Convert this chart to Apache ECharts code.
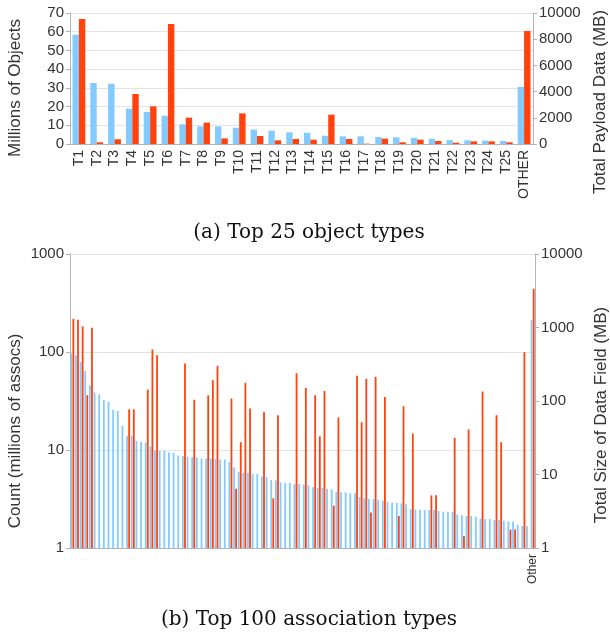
<!DOCTYPE html>
<html>
<head>
<meta charset="utf-8">
<script src="https://cdn.jsdelivr.net/npm/echarts@6/dist/echarts.min.js"></script>
<style>
  html, body { margin: 0; padding: 0; background: #fff; }
  #chart { width: 610px; height: 633px; }
</style>
</head>
<body>
<div id="chart"></div>
<script>
// (a) top 25 object types
const objTypes = ["T1", "T2", "T3", "T4", "T5", "T6", "T7", "T8", "T9", "T10", "T11", "T12", "T13",
  "T14", "T15", "T16", "T17", "T18", "T19", "T20", "T21", "T22", "T23", "T24", "T25", "OTHER"];
const objCount = [58.4, 32.6, 32.2, 18.9, 17.1, 15.1, 10.5, 9.4, 9.4, 8.7, 7.7, 7.1, 6.2,
  6.0, 4.4, 4.1, 4.1, 3.7, 3.6, 3.3, 2.8, 2.1, 2.0, 1.8, 1.6, 30.5]; // millions
const objPayload = [9540, 130, 360, 3820, 2875, 9160, 2010, 1630, 430, 2340, 610, 280, 380,
  330, 2240, 380, 25, 410, 130, 330, 230, 100, 200, 200, 130, 8630]; // MB

// (b) top 100 association types (last one is "Other")
const assocTypes = [];
for (let i = 1; i < 100; i++) assocTypes.push("A" + i);
assocTypes.push("Other");
const assocCount = [
  97, 92.5, 79, 64, 45.7, 38.7, 37, 32.4, 31.1, 25.6,
  25.0, 17.6, 13.9, 13.9, 12.4, 12.1, 11.9, 10.9, 9.9, 9.8,
  9.8, 9.5, 9.4, 8.8, 8.7, 8.55, 8.5, 8.4, 8.2, 8.2,
  8.2, 8.1, 8.0, 8.0, 7.55, 6.66, 5.97, 5.87, 5.87, 5.69,
  5.69, 5.35, 5.3, 4.94, 4.9, 4.68, 4.61, 4.61, 4.5, 4.5,
  4.43, 4.37, 4.16, 4.1, 4.1, 4.03, 3.97, 3.73, 3.7, 3.7,
  3.61, 3.61, 3.31, 3.21, 3.16, 3.16, 3.11, 3.04, 2.95, 2.9,
  2.88, 2.85, 2.79, 2.5, 2.46, 2.46, 2.44, 2.44, 2.44, 2.38,
  2.35, 2.35, 2.33, 2.19, 2.16, 2.12, 2.12, 2.09, 1.99, 1.97,
  1.97, 1.93, 1.93, 1.90, 1.86, 1.85, 1.72, 1.68, 1.68, 212
]; // millions of assocs
const assocSize = [
  1313, 1273, 1033, 120, 990, null, null, null, null, null,
  null, null, 77, 77, null, null, 143, 502, 420, null,
  null, null, null, null, 324, null, 104, null, null, 119,
  192, 301, null, null, 108, 6.4, 27.5, 177, 79, null,
  null, 71, null, 4.75, 64, null, null, null, 239, null,
  151, null, 120, 33, 137, null, 3.77, 59.6, null, null,
  null, 220, 51.4, 200, 3.03, 213, null, 113, null, null,
  2.73, 85, null, 36, null, null, null, 5.2, 5.2, null,
  null, null, 31.5, null, 1.46, 40.9, null, null, 134.6, null,
  null, 64, 27.5, null, 1.78, 1.78, null, 462, null, 3365
]; // MB

const BLUE = "#83caff";
const RED = "#ff420e";
const AXIS = "#b3b3b3";
const GRID = "#e3e3e3";
const LABEL = "#333";
const FONT = "Liberation Sans";

function valueAxis(extra) {
  return Object.assign({
    axisLine: { show: true, lineStyle: { color: AXIS } },
    axisTick: { show: true, length: 4, lineStyle: { color: AXIS } },
    axisLabel: { color: LABEL, fontSize: 15, fontFamily: FONT, margin: 6, formatter: (v) => String(v) },
    splitLine: { show: false }
  }, extra);
}

function axisTitle(text, x, y) {
  return {
    type: "text", x: x, y: y, rotation: Math.PI / 2,
    style: { text: text, fill: LABEL, fontSize: 17, fontFamily: FONT, align: "center", verticalAlign: "middle" }
  };
}

function caption(text, y) {
  return {
    type: "text", x: 309, y: y,
    style: { text: text, fill: "#111", fontSize: 20, fontFamily: "DejaVu Serif", align: "center", verticalAlign: "middle" }
  };
}

const option = {
  animation: false,
  backgroundColor: "#fff",
  grid: [
    { left: 70, right: 77, top: 13, height: 131 },
    { left: 70, right: 75, top: 254, height: 294 }
  ],
  xAxis: [
    {
      type: "category", gridIndex: 0, data: objTypes,
      axisLine: { lineStyle: { color: AXIS } },
      axisTick: { length: 6, interval: 0, lineStyle: { color: AXIS } },
      axisLabel: { rotate: 90, interval: 0, color: LABEL, fontSize: 14, fontFamily: FONT, margin: 6 }
    },
    {
      type: "category", gridIndex: 1, data: assocTypes,
      axisLine: { lineStyle: { color: AXIS } },
      axisTick: { length: 5, interval: 0, lineStyle: { color: "#aaaaaa" } },
      axisLabel: {
        rotate: 90, interval: 0, color: LABEL, fontSize: 12, fontFamily: FONT, margin: 6,
        formatter: (v) => (v === "Other" ? v : "")
      }
    }
  ],
  yAxis: [
    valueAxis({
      type: "value", gridIndex: 0, min: 0, max: 70, interval: 10,
      splitLine: { show: true, lineStyle: { color: GRID } }
    }),
    valueAxis({ type: "value", gridIndex: 0, position: "right", min: 0, max: 10000, interval: 2000 }),
    valueAxis({
      type: "log", logBase: 10, gridIndex: 1, min: 1, max: 1000,
      splitLine: { show: true, lineStyle: { color: GRID } }
    }),
    valueAxis({ type: "log", logBase: 10, gridIndex: 1, position: "right", min: 1, max: 10000 })
  ],
  series: [
    {
      name: "Millions of Objects", type: "bar", xAxisIndex: 0, yAxisIndex: 0,
      data: objCount, barWidth: 6.4, barGap: "0%", itemStyle: { color: BLUE }
    },
    {
      name: "Total Payload Data (MB)", type: "bar", xAxisIndex: 0, yAxisIndex: 1,
      data: objPayload, barWidth: 6.4, barGap: "0%", itemStyle: { color: RED }
    },
    {
      name: "Count", type: "bar", xAxisIndex: 1, yAxisIndex: 2,
      data: assocCount, barWidth: 1.8, barGap: "15%", itemStyle: { color: BLUE }
    },
    {
      name: "Total Size", type: "bar", xAxisIndex: 1, yAxisIndex: 3,
      data: assocSize, barWidth: 1.8, barGap: "15%", itemStyle: { color: RED }
    }
  ],
  graphic: [
    axisTitle("Millions of Objects", 15, 88),
    axisTitle("Total Payload Data (MB)", 600, 102),
    axisTitle("Count (millions of assocs)", 15, 431),
    axisTitle("Total Size of Data Field (MB)", 601, 415),
    caption("(a) Top 25 object types", 233),
    caption("(b) Top 100 association types", 620)
  ]
};

const myChart = echarts.init(document.getElementById("chart"));
myChart.setOption(option);
</script>
</body>
</html>
